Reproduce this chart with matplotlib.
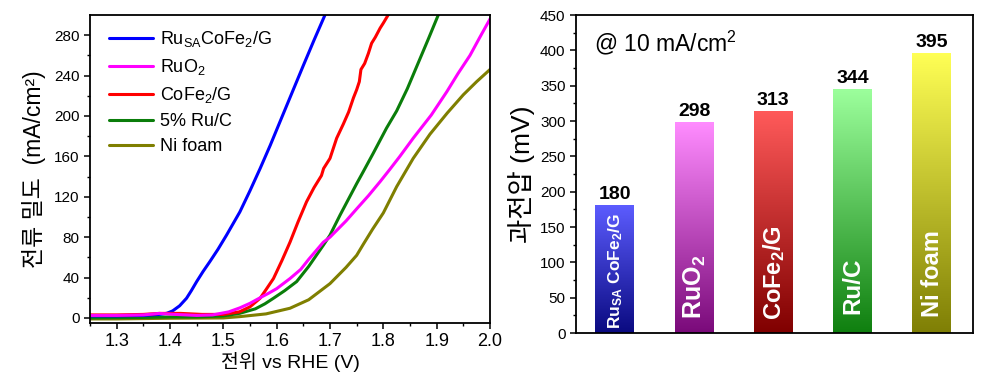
import numpy as np
import matplotlib
matplotlib.use("Agg")
import matplotlib.pyplot as plt
from matplotlib.colors import LinearSegmentedColormap

plt.rcParams['font.family'] = ['Liberation Sans', 'Noto Sans CJK KR', 'DejaVu Sans']
plt.rcParams['mathtext.default'] = 'regular'

# ---------------- data: LSV curves ----------------
x_blue = [1.25, 1.30, 1.35, 1.38, 1.394, 1.405, 1.418, 1.431, 1.44, 1.45, 1.462, 1.475, 1.49, 1.506, 1.531, 1.55, 1.569, 1.588, 1.606, 1.628, 1.65, 1.67, 1.6906]
y_blue = [2, 2, 2.5, 3.5, 4.6, 7, 12, 19.5, 27, 36, 46, 56, 68, 82, 105, 126, 148, 171, 194, 222, 250, 275, 300]

x_mag = [1.25, 1.30, 1.35, 1.38, 1.41, 1.45, 1.48, 1.51, 1.531, 1.55, 1.569, 1.585, 1.60, 1.625, 1.645, 1.66, 1.6875, 1.70, 1.73, 1.75, 1.772, 1.794, 1.812, 1.831, 1.856, 1.89, 1.919, 1.94, 1.9625, 1.98, 2.0]
y_mag = [2.5, 2.5, 3, 4.5, 3.5, 2.5, 3, 6, 10, 14.5, 20, 24.5, 29, 39, 48, 58, 75, 80, 96, 108, 121, 135, 147, 160, 178, 201, 224, 242, 260, 277, 296]

x_red = [1.25, 1.30, 1.35, 1.38, 1.42, 1.46, 1.50, 1.53, 1.55, 1.569, 1.58, 1.594, 1.61, 1.625, 1.64, 1.656, 1.67, 1.684, 1.688, 1.70, 1.7125, 1.725, 1.735, 1.744, 1.75, 1.755, 1.758, 1.765, 1.772, 1.778, 1.785, 1.794, 1.80, 1.809]
y_red = [3, 3, 3.5, 4.5, 4.5, 3.5, 3.5, 6, 11, 19.5, 28, 39, 57, 75, 95, 115, 129, 141, 148, 158, 178, 192, 204, 218, 226, 234, 246, 252, 262, 272, 278, 287, 292, 300]

x_green = [1.25, 1.35, 1.40, 1.45, 1.50, 1.531, 1.56, 1.578, 1.594, 1.615, 1.6375, 1.66, 1.6875, 1.70, 1.719, 1.735, 1.75, 1.7625, 1.781, 1.806, 1.825, 1.845, 1.869, 1.885, 1.903]
y_green = [0, 0.5, 1, 1, 2, 4.6, 9, 14, 19.5, 27, 36, 51, 72, 82, 102, 118, 133, 145, 163, 188, 205, 227, 257, 277, 300]

x_olive = [1.25, 1.30, 1.40, 1.50, 1.531, 1.58, 1.625, 1.66, 1.6875, 1.70, 1.73, 1.75, 1.7625, 1.78, 1.80, 1.825, 1.856, 1.8875, 1.92, 1.95, 1.975, 2.0]
y_olive = [-1, -1, -0.3, 0, 1.3, 4, 9.6, 18, 29, 34, 50, 62, 73, 88, 104, 130, 158, 182, 203, 221, 234, 246]

curve_labels = [r'Ru$_{SA}$CoFe$_2$/G', r'RuO$_2$', r'CoFe$_2$/G', '5% Ru/C', 'Ni foam']
curve_colors = ['#0000ff', '#ff00ff', '#ff0000', '#0a7d0a', '#7f7f00']

# ---------------- data: overpotential bars ----------------
bar_names = [r'Ru$_{SA}$ CoFe$_2$/G', r'RuO$_2$', r'CoFe$_2$/G', 'Ru/C', 'Ni foam']
overpot = [180, 298, 313, 344, 395]
bar_top_colors = ['#5c5cff', '#ff8cff', '#ff5a5a', '#9cff9c', '#ffff55']
bar_bot_colors = ['#0a0a80', '#7a0a7a', '#800000', '#0f7f0f', '#7f7f05']
name_sizes = [12.5, 18, 17, 17.5, 17]
name_base = [5, 20, 18, 27, 22]

fig = plt.figure(figsize=(10, 3.87), dpi=100)

# ---------------- left panel ----------------
ax1 = fig.add_axes([0.09, 0.1654, 0.40, 0.7959])
series = [(x_blue, y_blue), (x_mag, y_mag), (x_red, y_red), (x_green, y_green), (x_olive, y_olive)]
order = [4, 3, 0, 2, 1]
lines = {}
for i in order:
    xs, ys = series[i]
    ln, = ax1.plot(xs, ys, color=curve_colors[i], lw=2.2, label=curve_labels[i],
                   solid_joinstyle='round', solid_capstyle='round')
    lines[i] = ln
ax1.set_xlim(1.25, 2.0)
ax1.set_ylim(-5, 300)
ax1.set_xticks(np.arange(1.3, 2.01, 0.1))
ax1.set_xticklabels(['1.3', '1.4', '1.5', '1.6', '1.7', '1.8', '1.9', '2.0'])
ax1.set_xticks(np.arange(1.25, 2.001, 0.05), minor=True)
ax1.set_yticks(np.arange(0, 281, 40))
ax1.set_yticks(np.arange(0, 300, 20), minor=True)
ax1.tick_params(which='both', direction='out', top=False, right=False)
ax1.tick_params(axis='x', labelsize=13)
ax1.tick_params(axis='y', labelsize=11)
ax1.tick_params(which='major', length=4, width=1.1)
ax1.tick_params(which='minor', length=2.5, width=1.0)
for s in ax1.spines.values():
    s.set_linewidth(1.3)
ax1.set_xlabel('전위 vs RHE (V)', fontsize=14, labelpad=1)
ax1.set_ylabel('전류 밀도  (mA/cm²)', fontsize=16.5, labelpad=6)
leg = ax1.legend([lines[i] for i in range(5)], curve_labels, loc='upper left',
                 bbox_to_anchor=(0.02, 0.99), frameon=False, fontsize=13,
                 handlelength=2.45, handletextpad=0.4, labelspacing=0.45, borderaxespad=0.2)

# ---------------- right panel ----------------
ax2 = fig.add_axes([0.576, 0.1395, 0.397, 0.8217])
xpos = np.arange(1, 6)
bars = ax2.bar(xpos, overpot, width=0.49, color='none', edgecolor='none')
for b, ct, cb in zip(bars, bar_top_colors, bar_bot_colors):
    x0, y0 = b.get_x(), b.get_y()
    w, h = b.get_width(), b.get_height()
    cmap = LinearSegmentedColormap.from_list('g', [cb, ct])
    grad = np.linspace(0, 1, 256).reshape(-1, 1)
    ax2.imshow(grad, cmap=cmap, origin='lower', aspect='auto',
               extent=[x0, x0 + w, y0, y0 + h], zorder=2)
for x, v, name, fs, base in zip(xpos, overpot, bar_names, name_sizes, name_base):
    ax2.text(x, v + 4, str(v), ha='center', va='bottom', fontsize=14, fontweight='bold')
    ax2.text(x + 0.01, base, name, rotation=90, ha='center', va='bottom', color='white',
             fontsize=fs, fontweight='bold', zorder=4)
ax2.set_xlim(0.51, 5.52)
ax2.set_ylim(0, 450)
ax2.set_xticks([])
ax2.set_yticks(np.arange(0, 451, 50))
ax2.set_yticks(np.arange(0, 450, 25), minor=True)
ax2.tick_params(which='both', direction='out', right=False, labelsize=11)
ax2.tick_params(which='major', length=4, width=1.1)
ax2.tick_params(which='minor', length=2.5, width=1.0)
for s in ax2.spines.values():
    s.set_linewidth(1.3)
ax2.set_ylabel('과전압 (mV)', fontsize=19, labelpad=4)
ax2.text(0.045, 0.912, r'@ 10 mA/cm$^2$', transform=ax2.transAxes, fontsize=16.5, ha='left', va='center')

fig.savefig('out.png', dpi=100)
